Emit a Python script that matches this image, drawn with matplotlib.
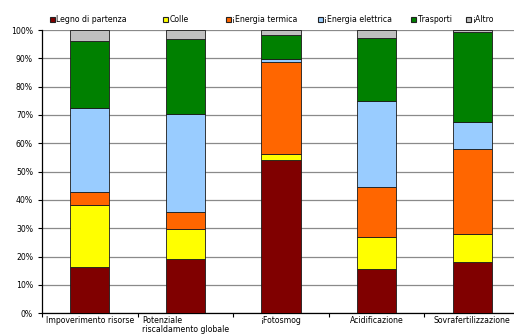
import matplotlib
matplotlib.use("Agg")
import matplotlib.pyplot as plt
from matplotlib.patches import Rectangle
from matplotlib.ticker import FixedLocator, PercentFormatter
import numpy as np

categories = ["Impoverimento risorse", "Potenziale\nriscaldamento globale",
              "¡Fotosmog", "Acidificazione", "Sovrafertilizzazione"]
series_names = ["Legno di partenza", "Colle", "¡Energia termica",
                "¡Energia elettrica", "Trasporti", "¡Altro"]
legno = [16.5, 19.1, 54.0, 15.5, 18.1]
colle = [21.6, 10.8, 2.3, 11.3, 10.0]
termica = [4.8, 6.0, 32.3, 17.7, 29.8]
elettrica = [29.7, 34.3, 1.1, 30.5, 9.7]
trasporti = [23.6, 26.5, 8.6, 22.3, 31.6]
altro = [3.8, 3.3, 1.7, 2.7, 0.8]
series = [legno, colle, termica, elettrica, trasporti, altro]
colors = ["#800000", "#FFFF00", "#FF6600", "#99CCFF", "#008000", "#C0C0C0"]

fig = plt.figure(figsize=(5.14, 3.35), dpi=100)
ax = fig.add_axes([42 / 514, (335 - 313.3) / 335, (520 - 42) / 514, 283.3 / 335])

x = np.arange(len(categories))
bottom = np.zeros(len(categories))
for vals, col in zip(series, colors):
    ax.bar(x, vals, bottom=bottom, width=0.41, color=col,
           edgecolor="#1a1a1a", linewidth=0.6, zorder=3)
    bottom += np.array(vals)

ax.set_xlim(-0.5, len(categories) - 0.5)
ax.set_ylim(0, 100)
ax.yaxis.set_major_locator(FixedLocator(np.arange(0, 101, 10)))
ax.yaxis.set_major_formatter(PercentFormatter(decimals=0))
ax.grid(axis="y", color="#8a8a8a", linewidth=0.9, zorder=0)
ax.set_axisbelow(True)

ax.set_xticks(x)
ax.set_xticklabels(categories, fontsize=5.6, multialignment="left",
                   linespacing=0.95)
ax.set_xticks(np.arange(-0.5, len(categories), 1), minor=True)
ax.tick_params(axis="x", which="major", length=0, pad=2)
ax.tick_params(axis="x", which="minor", length=3, width=0.8, direction="out")
ax.tick_params(axis="y", length=3, width=0.8, pad=3.5, labelsize=5.6)

for side in ("top", "right"):
    ax.spines[side].set_visible(False)
for side in ("left", "bottom"):
    ax.spines[side].set_color("black")
    ax.spines[side].set_linewidth(0.9)

# legend row across the top
legend_x = [50, 163, 226, 318, 411, 466]
for px, name, col in zip(legend_x, series_names, colors):
    fig.patches.append(Rectangle((px / 514, (335 - 21.7) / 335), 5 / 514, 4.8 / 335,
                                 transform=fig.transFigure, facecolor=col,
                                 edgecolor="#222222", linewidth=0.8))
    fig.text((px + 6.5) / 514, (335 - 21.7) / 335, name, fontsize=5.6,
             ha="left", va="baseline")

fig.savefig("out.png", dpi=100)
